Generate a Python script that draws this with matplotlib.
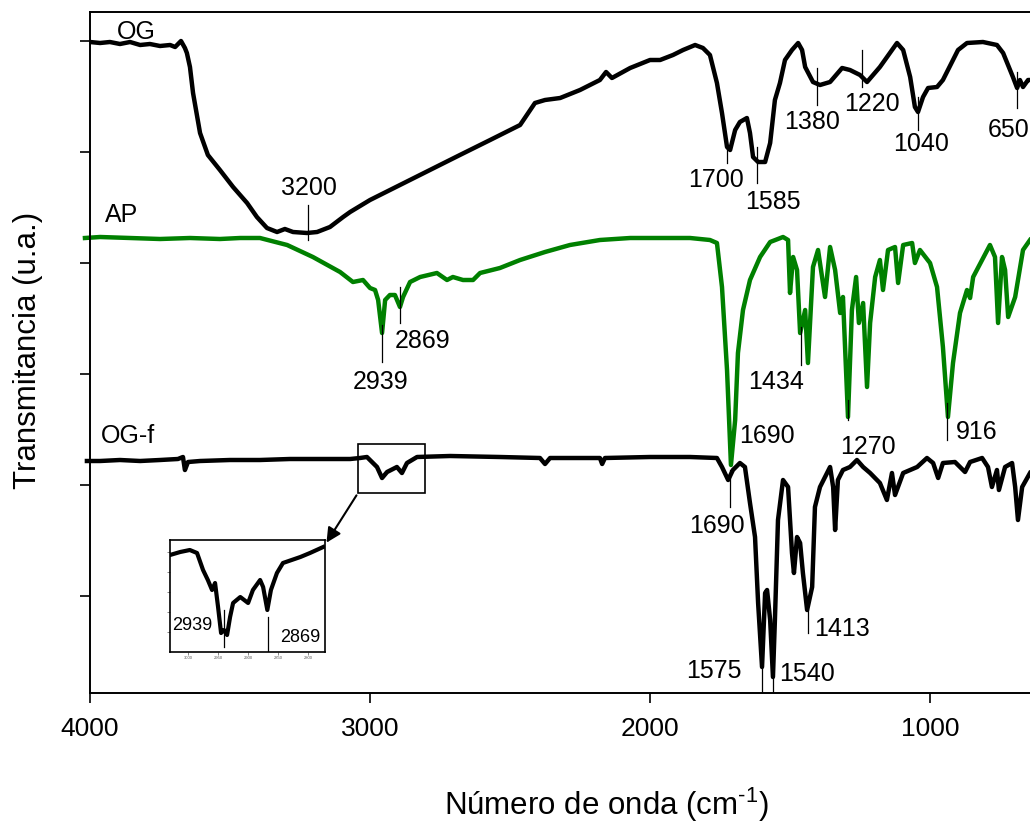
import numpy as np
import matplotlib
matplotlib.use("Agg")
import matplotlib.pyplot as plt
from matplotlib.patches import Rectangle

plt.rcParams['font.family'] = ['Liberation Sans', 'DejaVu Sans']
plt.rcParams['mathtext.fontset'] = 'custom'
plt.rcParams['mathtext.rm'] = 'Liberation Sans'

# OG spectrum (wavenumber, transmittance a.u.)
og_wn = [4000, 3964, 3929, 3893, 3857, 3821, 3786, 3750, 3714, 3696, 3675, 3661, 3654, 3643, 3632,
         3607, 3579, 3536, 3489, 3439, 3404, 3368, 3332, 3304, 3275, 3225, 3189, 3143, 3096, 3071,
         3000, 2893, 2786, 2679, 2571, 2464, 2411, 2375, 2321, 2250, 2179, 2157, 2136, 2071, 2000,
         1964, 1918, 1882, 1839, 1811, 1786, 1761, 1743, 1725, 1714, 1696, 1679, 1654, 1643, 1632,
         1614, 1589, 1571, 1554, 1536, 1518, 1493, 1471, 1457, 1446, 1418, 1393, 1357, 1314, 1286,
         1250, 1225, 1179, 1118, 1096, 1071, 1054, 1043, 1025, 1007, 975, 954, 900, 868, 811,
         761, 739, 704, 689, 679, 668, 650, 643]
og_t = [651, 650, 651, 649, 651, 648, 649, 647, 648, 646, 652, 645, 640, 626, 600,
        560, 538, 523, 506, 490, 476, 465, 461, 464, 461, 460, 461, 466, 476, 481,
        493, 508, 523, 538, 553, 568, 590, 593, 595, 603, 613, 621, 615, 625, 633,
        633, 638, 643, 648, 645, 638, 610, 580, 546, 543, 563, 571, 575, 560, 536,
        531, 531, 550, 593, 610, 633, 643, 650, 643, 626, 611, 608, 611, 625, 623,
        618, 611, 626, 650, 643, 616, 586, 581, 596, 605, 606, 613, 643, 650, 651,
        648, 640, 616, 605, 613, 606, 613, 613]

# AP spectrum
ap_wn = [4018, 3964, 3857, 3750, 3643, 3536, 3464, 3393, 3296, 3204, 3107, 3061, 3025, 3000, 2982,
         2971, 2957, 2946, 2929, 2911, 2893, 2882, 2857, 2821, 2761, 2725, 2704, 2668, 2632, 2607,
         2536, 2464, 2375, 2286, 2179, 2071, 1964, 1857, 1786, 1761, 1743, 1725, 1711, 1696, 1686,
         1668, 1643, 1607, 1571, 1525, 1507, 1500, 1489, 1475, 1464, 1446, 1436, 1418, 1400, 1375,
         1357, 1339, 1321, 1311, 1293, 1279, 1264, 1254, 1239, 1225, 1214, 1196, 1179, 1168, 1150,
         1125, 1114, 1096, 1064, 1054, 1036, 1000, 975, 954, 936, 918, 893, 868, 857, 846,
         786, 768, 757, 743, 732, 721, 696, 668, 643]
ap_t = [455, 456, 455, 454, 455, 454, 455, 455, 448, 436, 421, 411, 413, 405, 403,
        393, 360, 393, 398, 398, 386, 396, 411, 416, 420, 413, 416, 413, 413, 420,
        425, 433, 441, 448, 453, 455, 455, 455, 453, 450, 406, 323, 228, 273, 340,
        383, 413, 436, 451, 456, 453, 400, 436, 423, 360, 383, 330, 426, 443, 396,
        446, 423, 380, 396, 276, 383, 416, 370, 390, 306, 370, 416, 433, 403, 443,
        446, 410, 448, 450, 430, 443, 430, 406, 346, 276, 330, 380, 403, 395, 416,
        448, 436, 370, 436, 423, 376, 396, 443, 453]

# OG-f spectrum
ogf_wn = [4011, 3964, 3893, 3821, 3750, 3686, 3668, 3661, 3650, 3607, 3500, 3393, 3286, 3179, 3071,
          3036, 3011, 2975, 2957, 2939, 2904, 2886, 2868, 2832, 2714, 2536, 2393, 2375, 2357, 2179,
          2171, 2161, 2000, 1857, 1761, 1743, 1721, 1704, 1679, 1661, 1643, 1625, 1614, 1600, 1589,
          1582, 1571, 1561, 1554, 1543, 1525, 1507, 1493, 1486, 1475, 1464, 1454, 1439, 1421, 1411,
          1393, 1375, 1357, 1346, 1339, 1329, 1311, 1286, 1261, 1239, 1214, 1179, 1154, 1136, 1125,
          1096, 1046, 1011, 989, 971, 954, 911, 875, 857, 814, 793, 779, 761, 754, 732,
          707, 696, 686, 671, 643]
ogf_t = [232, 232, 233, 232, 233, 234, 236, 223, 231, 232, 233, 233, 234, 234, 234,
         235, 236, 226, 215, 221, 226, 220, 230, 236, 237, 236, 235, 229, 235, 235,
         229, 235, 236, 236, 235, 226, 213, 223, 230, 226, 190, 156, 90, 26, 100,
         103, 73, 16, 73, 173, 213, 206, 140, 120, 156, 150, 120, 83, 106, 186,
         206, 216, 226, 206, 163, 213, 223, 226, 233, 226, 220, 210, 193, 220, 198,
         220, 226, 235, 230, 215, 230, 231, 221, 231, 235, 226, 206, 223, 203, 226,
         230, 206, 173, 206, 220]

# OG-f zoom (2700-3050 cm-1)
zoom_wn = [3030, 3013, 2997, 2985, 2975, 2967, 2960, 2955, 2950, 2945, 2940, 2935, 2930, 2925, 2913,
           2900, 2892, 2880, 2875, 2868, 2862, 2852, 2842, 2813, 2797, 2775]
zoom_t = [97, 100, 102, 99, 82, 72, 62, 69, 45, 19, 22, 17, 35, 49, 55,
          49, 62, 72, 65, 42, 62, 79, 89, 95, 99, 105]

# peak labels: text, text x, text y, line x, line y0, line y1
peaks = [
    ("3200", 3218, 505, 3221, 453, 488),
    ("1700", 1764, 513, 1725, 530, 546),
    ("1585", 1561, 491, 1618, 510, 546),
    ("1380", 1421, 571, 1404, 588, 625),
    ("1220", 1207, 589, 1243, 606, 643),
    ("1040", 1032, 549, 1043, 563, 596),
    ("650", 718, 563, 689, 585, 621),
    ("2939", 2961, 311, 2957, 331, 368),
    ("2869", 2811, 352, 2893, 370, 406),
    ("1434", 1550, 311, 1461, 328, 366),
    ("1690", 1582, 257, None, None, None),
    ("1270", 1221, 246, 1293, 273, 293),
    ("916", 832, 261, 939, 253, 290),
    ("1690", 1761, 167, 1714, 186, 223),
    ("1413", 1314, 64, 1436, 60, 83),
    ("1575", 1771, 22, 1600, 0, 26),
    ("1540", 1439, 19, 1561, 0, 16),
]
series_names = [("OG", 3836, 661), ("AP", 3886, 478), ("OG-f", 3864, 257)]

fig = plt.figure(figsize=(10.3, 8.32), dpi=100)
ax = fig.add_axes([90/1030, 139/832, 940/1030, 681/832])

ax.plot(og_wn, og_t, color='black', lw=3.2, solid_joinstyle='round')
ax.plot(ap_wn, ap_t, color='#008000', lw=3.2, solid_joinstyle='round', clip_on=False)
ax.plot(ogf_wn, ogf_t, color='black', lw=3.2, solid_joinstyle='round', clip_on=False)

for txt, tx, ty, lx, y0, y1 in peaks:
    ax.text(tx, ty, txt, fontsize=18, ha='center', va='center')
    if lx is not None:
        ax.plot([lx, lx], [y0, y1], color='black', lw=0.9, zorder=4)

for name, x, y in series_names:
    ax.text(x, y, name, fontsize=18, ha='center', va='center')

ax.set_xlim(4000, 643)
ax.set_ylim(0, 681)
ax.set_xticks([4000, 3000, 2000, 1000])
ax.set_yticks([97, 208, 319, 430, 541, 652])
ax.set_yticklabels([])
ax.tick_params(axis='both', direction='out', length=7, width=1.2, labelsize=19)
ax.tick_params(axis='x', pad=10)
for s in ['left', 'bottom', 'top']:
    ax.spines[s].set_linewidth(1.4)
ax.spines['right'].set_visible(False)

# x label with a short hyphen in the superscript
xl = fig.text(606/1030, 1 - 805/832, r'Número de onda (cm$^{\text{-}1}$)', fontsize=22.5,
              ha='center', va='center')
fig.text(28/1030, 1 - 350/832, 'Transmitancia (u.a.)', fontsize=22.5, rotation=90,
         ha='center', va='center')

# box around zoomed region and arrow to inset
ax.add_patch(Rectangle((2804, 200), 239, 49, fill=False, ec='black', lw=1.2))
ax.annotate('', xy=(325/1030, 1 - 545/832), xycoords='figure fraction',
            xytext=(3043, 200), textcoords='data',
            arrowprops=dict(arrowstyle='-|>', color='black', lw=1.5, mutation_scale=22))

axin = fig.add_axes([170/1030, 180/832, 155/1030, 112/832])
axin.plot(zoom_wn, zoom_t, color='black', lw=3, solid_joinstyle='round')
axin.set_xlim(3030, 2772)
axin.set_ylim(0, 112)
axin.set_xticks([3000, 2950, 2900, 2850, 2800])
axin.set_yticks([20, 40, 60, 80, 100])
axin.set_yticklabels([])
axin.tick_params(axis='both', direction='out', length=2, width=0.5, labelsize=3, colors='#555555', pad=1)
for s in axin.spines.values():
    s.set_linewidth(1.2)
axin.plot([2940, 2940], [5, 42], color='black', lw=0.9)
axin.plot([2867, 2867], [0, 35], color='black', lw=0.9)
axin.text(2993, 27, "2939", fontsize=13, ha='center', va='center')
axin.text(2813, 14, "2869", fontsize=13, ha='center', va='center')

fig.savefig('out.png', dpi=100)
